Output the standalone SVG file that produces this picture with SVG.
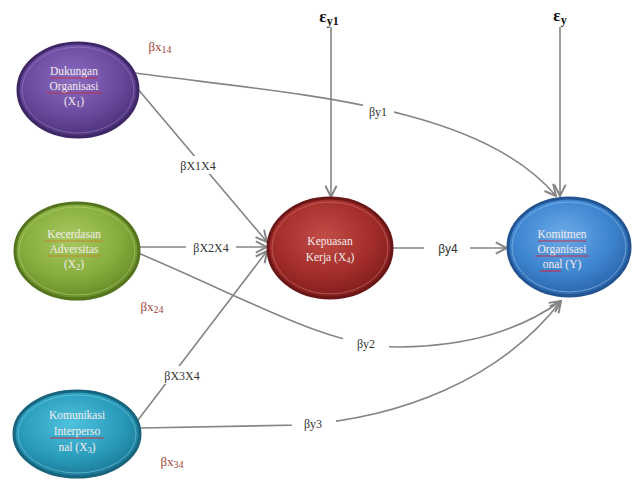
<svg xmlns="http://www.w3.org/2000/svg" width="635" height="484" viewBox="0 0 635 484">
<style>
.conn{fill:none;stroke:#858585;stroke-width:1.6}
.lbl{font-family:"Liberation Serif","DejaVu Serif",serif;font-size:12px;fill:#333;text-anchor:middle}
.lbls{font-family:"Liberation Sans","DejaVu Sans",sans-serif;font-size:12px;fill:#333;text-anchor:middle}
.rlbl{font-family:"Liberation Serif","DejaVu Serif",serif;font-size:13px;fill:#a3443c;text-anchor:middle}
.eps{font-family:"Liberation Serif","DejaVu Serif",serif;font-size:17px;font-weight:bold;fill:#111;text-anchor:middle}
.nt{font-family:"Liberation Serif","DejaVu Serif",serif;font-size:11.5px;fill:#f4ecec;text-anchor:middle}
.bg{fill:#fff}
.sq{stroke:#c0304a;stroke-width:1.2;fill:none}
.sqo{stroke:#c08a30;stroke-width:1.2;fill:none}
</style>
<defs>
<marker id="arr" markerUnits="userSpaceOnUse" markerWidth="14" markerHeight="14" viewBox="0 0 10 10" refX="9" refY="5" orient="auto">
<path d="M1,1 L9,5 L1,9" fill="none" stroke="#858585" stroke-width="1.4"/>
</marker>
<radialGradient id="gP" cx="45%" cy="38%" r="65%"><stop offset="0" stop-color="#8b6dc2"/><stop offset="0.6" stop-color="#6a4a9e"/><stop offset="1" stop-color="#4a2f76"/></radialGradient>
<radialGradient id="gG" cx="45%" cy="38%" r="65%"><stop offset="0" stop-color="#a9c962"/><stop offset="0.6" stop-color="#86ad3c"/><stop offset="1" stop-color="#648828"/></radialGradient>
<radialGradient id="gT" cx="45%" cy="38%" r="65%"><stop offset="0" stop-color="#4fc2de"/><stop offset="0.6" stop-color="#2a9dbd"/><stop offset="1" stop-color="#1a7692"/></radialGradient>
<radialGradient id="gR" cx="45%" cy="38%" r="65%"><stop offset="0" stop-color="#c24c46"/><stop offset="0.6" stop-color="#a32d2a"/><stop offset="1" stop-color="#7c1c1c"/></radialGradient>
<radialGradient id="gB" cx="45%" cy="38%" r="65%"><stop offset="0" stop-color="#6cabe8"/><stop offset="0.6" stop-color="#3d85d0"/><stop offset="1" stop-color="#2961a6"/></radialGradient>
</defs>
<rect width="635" height="484" fill="#fff"/>

<g id="connectors">
<line class="conn" x1="331" y1="27" x2="331" y2="197" marker-end="url(#arr)"/>
<line class="conn" x1="560" y1="27" x2="560" y2="196" marker-end="url(#arr)"/>
<path class="conn" d="M135,73 C300,95 480,105 556,196" marker-end="url(#arr)"/>
<line class="conn" x1="137" y1="88" x2="267" y2="242" marker-end="url(#arr)"/>
<line class="conn" x1="139" y1="247" x2="267" y2="247" marker-end="url(#arr)"/>
<line class="conn" x1="138" y1="420" x2="267" y2="251" marker-end="url(#arr)"/>
<path class="conn" d="M138,253 C250,300 330,348 400,347 C470,346 520,330 561,301" marker-end="url(#arr)"/>
<path class="conn" d="M140,428 L300,425 C400,418 500,380 561,301" marker-end="url(#arr)"/>
<line class="conn" x1="392" y1="248" x2="507" y2="248" marker-end="url(#arr)"/>

<rect class="bg" x="363" y="102" width="31" height="18"/>
<text class="lbl" x="378" y="116">βy1</text>
<rect class="bg" x="174" y="156" width="48" height="18"/>
<text class="lbl" x="198" y="170">βX1X4</text>
<rect class="bg" x="186" y="238" width="50" height="18"/>
<text class="lbl" x="211" y="252">βX2X4</text>
<rect class="bg" x="158" y="366" width="48" height="18"/>
<text class="lbl" x="182" y="380">βX3X4</text>
<rect class="bg" x="343" y="335" width="46" height="18"/>
<text class="lbl" x="366" y="348">βy2</text>
<rect class="bg" x="292" y="415" width="44" height="18"/>
<text class="lbl" x="313" y="428">βy3</text>
<rect class="bg" x="424" y="239" width="46" height="18"/>
<text class="lbls" x="448" y="253">βy4</text>

<text class="rlbl" x="160" y="51">βx<tspan font-size="10" dy="2">14</tspan></text>
<text class="rlbl" x="152" y="311">βx<tspan font-size="10" dy="2">24</tspan></text>
<text class="rlbl" x="172" y="466">βx<tspan font-size="10" dy="2">34</tspan></text>

<text class="eps" x="329" y="22">ε<tspan font-size="12" dy="3">y1</tspan></text>
<text class="eps" x="560" y="21">ε<tspan font-size="12" dy="3">y</tspan></text>
</g>

<g id="x1">
<ellipse cx="78" cy="90" rx="60" ry="47" fill="url(#gP)" stroke="#3e2766" stroke-width="3"/>
<ellipse cx="78" cy="90" rx="56" ry="43" fill="none" stroke="#9a84c8" stroke-width="0.8" opacity="0.7"/>
<text class="nt" x="74" y="75">Dukungan</text>
<text class="nt" x="74" y="90">Organisasi</text>
<text class="nt" x="74" y="105">(X<tspan font-size="8.5" dy="2">1</tspan><tspan dy="-2">)</tspan></text>
<line class="sq" x1="50" y1="78" x2="98" y2="78"/>
<line class="sq" x1="46" y1="93" x2="102" y2="93"/>
</g>

<g id="x2">
<ellipse cx="77" cy="251" rx="62" ry="48" fill="url(#gG)" stroke="#54741e" stroke-width="3"/>
<ellipse cx="77" cy="251" rx="58" ry="44" fill="none" stroke="#b9d47a" stroke-width="0.8" opacity="0.7"/>
<text class="nt" x="74" y="238">Kecerdasan</text>
<text class="nt" x="74" y="253">Adversitas</text>
<text class="nt" x="74" y="268">(X<tspan font-size="8.5" dy="2">2</tspan><tspan dy="-2">)</tspan></text>
<line class="sqo" x1="45" y1="241" x2="103" y2="241"/>
<line class="sqo" x1="47" y1="256" x2="101" y2="256"/>
</g>

<g id="x3">
<ellipse cx="77" cy="434" rx="63" ry="43" fill="url(#gT)" stroke="#18647c" stroke-width="3"/>
<ellipse cx="77" cy="434" rx="59" ry="39" fill="none" stroke="#7fd0e6" stroke-width="0.8" opacity="0.7"/>
<text class="nt" x="77" y="419">Komunikasi</text>
<text class="nt" x="77" y="435">Interperso</text>
<text class="nt" x="77" y="451">nal (X<tspan font-size="8.5" dy="2">3</tspan><tspan dy="-2">)</tspan></text>
<line class="sq" x1="50" y1="438" x2="104" y2="438"/>
</g>

<g id="x4">
<ellipse cx="330" cy="248" rx="62" ry="50" fill="url(#gR)" stroke="#6a1616" stroke-width="3"/>
<ellipse cx="330" cy="248" rx="58" ry="46" fill="none" stroke="#d77a72" stroke-width="0.8" opacity="0.7"/>
<text class="nt" x="330" y="245">Kepuasan</text>
<text class="nt" x="330" y="261">Kerja  (X<tspan font-size="8.5" dy="2">4</tspan><tspan dy="-2">)</tspan></text>
</g>

<g id="y">
<ellipse cx="569" cy="247" rx="61" ry="49" fill="url(#gB)" stroke="#225492" stroke-width="3"/>
<ellipse cx="569" cy="247" rx="57" ry="45" fill="none" stroke="#9cc8f0" stroke-width="0.8" opacity="0.7"/>
<text class="nt" x="562" y="238">Komitmen</text>
<text class="nt" x="562" y="253">Organisasi</text>
<text class="nt" x="562" y="268">onal (Y)</text>
<line class="sq" x1="538" y1="241" x2="586" y2="241"/>
<line class="sq" x1="535" y1="256" x2="589" y2="256"/>
<line class="sq" x1="540" y1="271" x2="561" y2="271"/>
</g>
</svg>
